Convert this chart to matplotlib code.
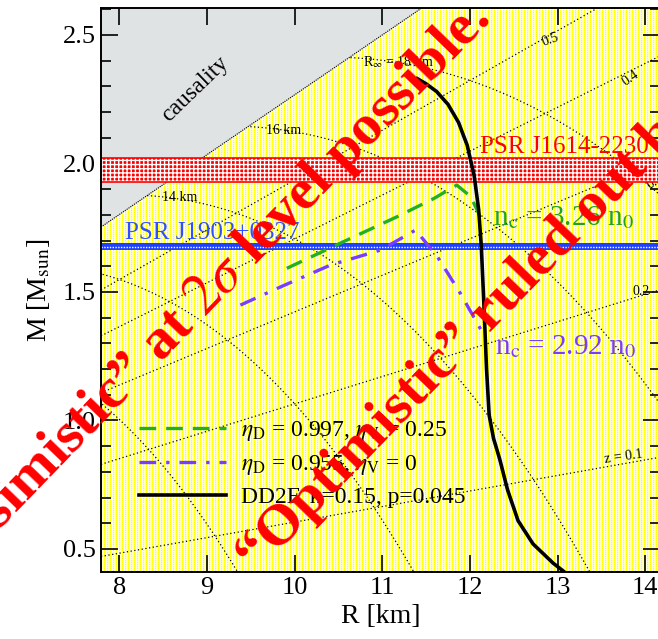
"""Mass-radius diagram: hybrid EoS branches against the pulsar mass bounds."""

import numpy as np
import matplotlib.pyplot as plt
from matplotlib.ticker import MultipleLocator

plt.rcParams["font.family"] = ["Liberation Serif", "DejaVu Serif"]
plt.rcParams["mathtext.fontset"] = "stix"

# --- data -------------------------------------------------------------------
# hadronic DD2F sequence
DD2F_R = [11.40, 11.50, 11.62, 11.75, 11.87, 11.97, 12.05, 12.10, 12.13, 12.16,
          12.19, 12.22, 12.27, 12.34, 12.43, 12.55, 12.72, 12.95, 13.10]
DD2F_M = [2.33, 2.31, 2.28, 2.23, 2.16, 2.07, 1.95, 1.82, 1.68, 1.45,
          1.20, 1.02, 0.93, 0.85, 0.73, 0.61, 0.52, 0.445, 0.405]

# hybrid branch, eta_D = 0.997, eta_V = 0.25 (onset n_c = 3.26 n_0)
HYB1_R = [9.91, 10.64, 11.17, 11.59, 11.85, 12.01, 12.10, 12.14]
HYB1_M = [1.592, 1.709, 1.793, 1.864, 1.916, 1.871, 1.806, 1.76]

# hybrid branch, eta_D = 0.955, eta_V = 0 (onset n_c = 2.92 n_0)
HYB2_R = [9.38, 9.84, 10.41, 10.98, 11.38, 11.63, 11.89, 12.16]
HYB2_M = [1.449, 1.52, 1.605, 1.663, 1.741, 1.637, 1.495, 1.333]

# pulsar mass bands
J1614_BAND = (1.928, 2.021)
J1903_BAND = (1.663, 1.690)

# causality limit (end points of the boundary line)
CAUS_R = [7.79, 11.45]
CAUS_M = [1.753, 2.605]

# guide lines: apparent radius and surface redshift
R_INF = [10, 12, 14, 16, 18]
Z_VALUES = [0.1, 0.2, 0.3, 0.4, 0.5]
RS_SUN = 2.87  # 2GM_sun/c^2 in km (as used for the guide grid)

LEGEND_LABELS = [
    r"$\eta_{\rm D}$ = 0.997, $\eta_{\rm V}$ = 0.25",
    r"$\eta_{\rm D}$ = 0.955, $\eta_{\rm V}$ = 0",
    "DD2F, k=0.15, p=0.045",
]

XLIM = (7.789, 14.17)
YLIM = (0.4105, 2.605)

W, H = 658, 639
fig = plt.figure(figsize=(W / 100, H / 100), dpi=100)
ax = fig.add_axes([101 / W, 67 / H, 559 / W, 564 / H])
ax.set_xlim(*XLIM)
ax.set_ylim(*YLIM)

# yellow dotted background texture
ph, pw = 564, 559
tex = np.ones((ph, pw, 3))
cols = np.arange(pw) % 3
rows = np.arange(ph) % 2
tex[:, cols == 1, 2] = 0.72
tex[:, cols == 2, 2] = 0.96
yel = np.where(rows == 0, 0.0, 0.65)
tex[:, cols == 0, 2] = yel[:, None]
ax.imshow(tex, extent=(*XLIM, *YLIM), aspect="auto",
          interpolation="nearest", zorder=0)


def caus_line(r):
    slope = (CAUS_M[1] - CAUS_M[0]) / (CAUS_R[1] - CAUS_R[0])
    return CAUS_M[0] + slope * (np.asarray(r) - CAUS_R[0])


# causality region
cr = np.array([XLIM[0], XLIM[1]])
ax.fill_between(cr, caus_line(cr), YLIM[1] + 1, color="#dfe3e3", lw=0, zorder=1)
ax.plot(cr, caus_line(cr), color="k", ls=(0, (1, 1)), lw=0.8, zorder=1.5)
ax.text(8.86, 2.29, "causality", rotation=44, fontsize=17,
        ha="center", va="center", zorder=2)

# guide lines
dot = dict(color="k", ls=(0, (1, 2)), lw=0.9, zorder=2)
for rinf in R_INF:
    r = np.linspace(5, rinf, 400)
    m = r / RS_SUN * (1 - (r / rinf) ** 2)
    m = np.where(m <= caus_line(r), m, np.nan)
    ax.plot(r, m, **dot)
for z in Z_VALUES:
    r = np.array([XLIM[0], XLIM[1] + 0.2])
    ax.plot(r, r / RS_SUN * (1 - 1 / (1 + z) ** 2), **dot)

small = dict(fontsize=10, ha="center", va="center", zorder=3)
ax.text(8.69, 1.866, "14 km", **small)
ax.text(9.87, 2.13, "16 km", **small)
ax.text(11.18, 2.395, r"R$_\infty$ = 18 km", **small)
ax.text(12.92, 2.48, "0.5", rotation=20, **small)
ax.text(13.83, 2.33, "0.4", rotation=35, **small)
ax.text(14.12, 1.93, "0.3", rotation=30, **small)
ax.text(13.95, 1.50, "0.2", **small)
ax.text(13.75, 0.86, "z = 0.1", rotation=8, **small)

# pulsar bands
ax.fill_between(cr, *J1614_BAND, facecolor="red", edgecolor="white",
                hatch="++++", lw=0, zorder=3)
for y in J1614_BAND:
    ax.axhline(y, color="red", lw=1.2, zorder=3)
ax.text(12.115, 2.064, "PSR J1614-2230", color="red", fontsize=18,
        ha="left", va="center", zorder=4)

ax.fill_between(cr, *J1903_BAND, color="#2040ff", lw=0, zorder=3)
ax.axhline(sum(J1903_BAND) / 2, color="white", ls=(0, (1, 1)), lw=1.0, zorder=3)
ax.text(8.06, 1.73, "PSR J1903+0327", color="#3050ff", fontsize=18,
        ha="left", va="center", zorder=4)

# mass-radius curves
h1, = ax.plot(HYB1_R, HYB1_M, color="#22b022", ls=(0, (5, 3)), lw=2.4, zorder=5)
h2, = ax.plot(HYB2_R, HYB2_M, color="#7a3cff", ls=(0, (5, 3, 1, 3)), lw=2.4, zorder=5)
h3, = ax.plot(DD2F_R, DD2F_M, color="k", lw=2.6, zorder=5)

ax.text(12.26, 1.79, r"n$_{\rm c}$ = 3.26 n$_0$", color="#22a022", fontsize=21,
        ha="left", va="center", zorder=6)
ax.text(12.29, 1.286, r"n$_{\rm c}$ = 2.92 n$_0$", color="#7a3cff", fontsize=21,
        ha="left", va="center", zorder=6)

leg = ax.legend([h1, h2, h3], LEGEND_LABELS, loc="lower left",
                bbox_to_anchor=(0.03, 0.075), frameon=False, fontsize=17,
                handlelength=3.7, handletextpad=0.6, labelspacing=0.42)
leg.set_zorder(6)

# axes styling
ax.set_xticks(range(8, 15))
ax.yaxis.set_major_locator(MultipleLocator(0.5))
ax.yaxis.set_minor_locator(MultipleLocator(0.1))
ax.tick_params(which="both", direction="in", top=True, right=True, width=1.2,
               labelsize=19)
ax.tick_params(which="major", length=12)
ax.tick_params(which="minor", length=7)
for s in ax.spines.values():
    s.set_linewidth(1.4)
    s.set_zorder(7)
ax.set_xlabel("R [km]", fontsize=20, labelpad=4)
ax.set_ylabel(r"M [M$_{\rm sun}$]", fontsize=20, labelpad=8)

# headline annotations
big = dict(color="red", fontsize=42, fontweight="bold", rotation=46,
           rotation_mode="anchor", zorder=10)
fig.text(196 / W, 1 - 306 / H, r"“Pessimistic” at $2\sigma$ level possible.",
         ha="center", va="center", **big)
fig.text(256 / W, 1 - 575 / H, "“Optimistic” ruled out by J1614-2230",
         ha="left", va="baseline", **big)

fig.savefig("out.png", dpi=100)
